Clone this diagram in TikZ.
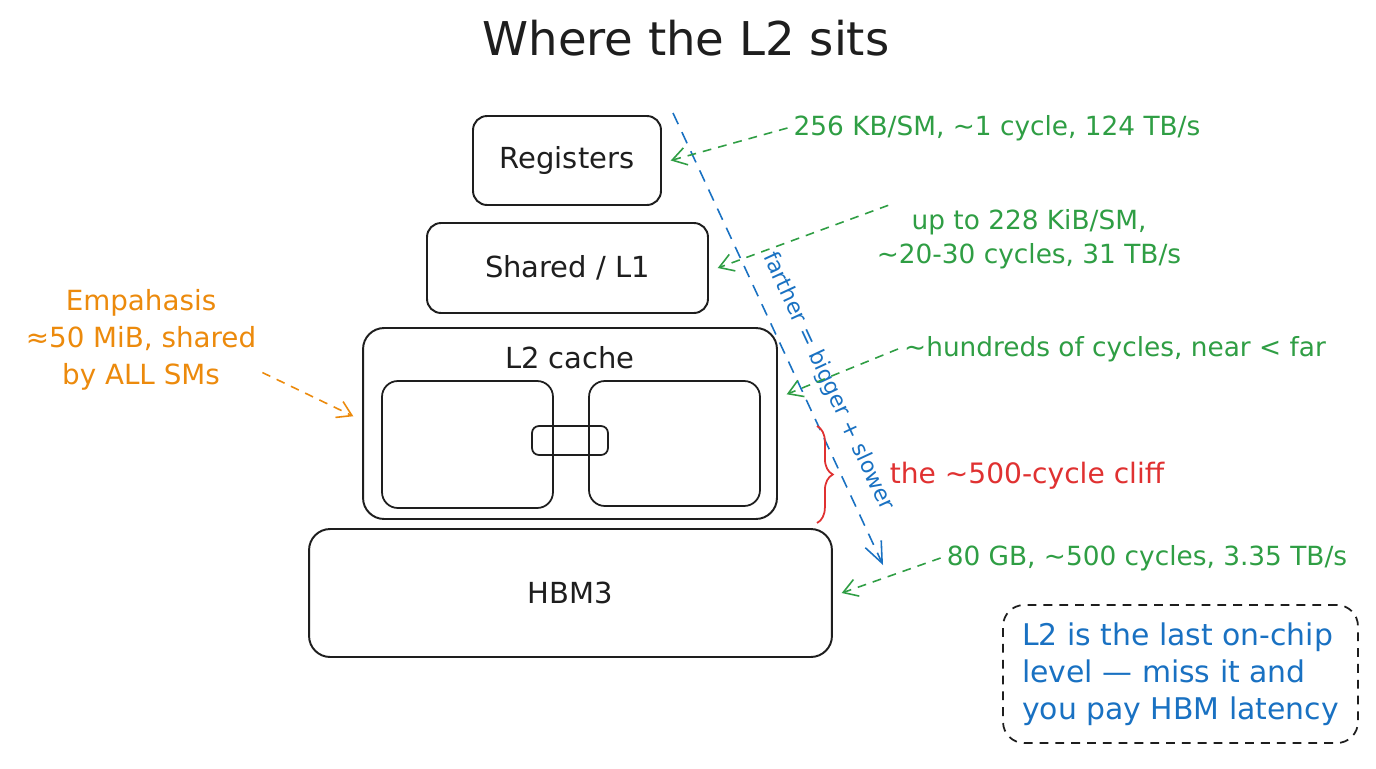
\documentclass[tikz,border=0pt]{standalone}
\usepackage{fontspec}
\setmainfont{DejaVu Sans}
\usetikzlibrary{arrows.meta, positioning, calc, decorations.pathreplacing}

\definecolor{ink}{HTML}{1E1E1E}
\definecolor{inkgreen}{HTML}{2F9E44}
\definecolor{inkblue}{HTML}{1971C2}
\definecolor{inkred}{HTML}{E03131}
\definecolor{inkorange}{HTML}{EC8A0C}

\tikzstyle{level} = [rectangle, rounded corners=8pt, draw=ink, line width=1.1pt, text=ink, font=\fontsize{16.5}{20}\selectfont]
\tikzstyle{bank} = [rectangle, rounded corners=9pt, draw=ink, line width=1pt]
\tikzstyle{stat} = [text=inkgreen, align=center, font=\fontsize{15}{19.5}\selectfont]
\tikzstyle{arrow} = [line width=0.9pt, dash pattern=on 5pt off 4pt, ->, >={Straight Barb[length=8pt,width=10pt]}]

\begin{document}
\begin{tikzpicture}[x=0.02cm, y=-0.02cm]
\useasboundingbox[fill=white] (0,0) rectangle (1376,768);

% Title
\node (title) at (686,38) [font=\fontsize{26.5}{30}\selectfont, text=ink] {Where the L2 sits};

% Memory levels
\node (reg) [level, minimum width=3.76cm, minimum height=1.78cm] at (567,160.5) {Registers};
\node (smem) [level, minimum width=5.62cm, minimum height=1.8cm] at (567.5,268) {Shared / L1};
\node (l2) [level, rounded corners=12pt, minimum width=8.28cm, minimum height=3.82cm] at (570,423.5) {};
\node (l2name) [text=ink, font=\fontsize{16.5}{20}\selectfont] at (570,358) {L2 cache};
\node (bankA) [bank, minimum width=3.42cm, minimum height=2.54cm] at (467.5,444.5) {};
\node (bankB) [bank, minimum width=3.42cm, minimum height=2.5cm] at (674.5,443.5) {};
\node (xbar) [bank, rounded corners=4pt, minimum width=1.52cm, minimum height=0.58cm] at (570,440.5) {};
\node (hbm) [level, rounded corners=12pt, minimum width=10.46cm, minimum height=2.56cm] at (570.5,593) {HBM3};

% Farther = bigger + slower
\coordinate (ftop) at (673,113);
\coordinate (fbot) at (883,565);
\draw [arrow, inkblue, dash pattern=on 7pt off 5pt, >={Straight Barb[length=12pt,width=10pt]}] (ftop) -- node (trend) [sloped, above=7pt, pos=0.62, inner sep=2pt, text=inkblue, font=\fontsize{12.5}{14}\selectfont] {farther = bigger + slower} (fbot);

% Per-level numbers
\node (regstat) [stat] at (997,128) {256 KB/SM, \textasciitilde1 cycle, 124 TB/s};
\node (smemstat) [stat] at (1029,239) {up to 228 KiB/SM,\\\textasciitilde20-30 cycles, 31 TB/s};
\node (l2stat) [stat] at (1115,349) {\textasciitilde hundreds of cycles, near < far};
\node (hbmstat) [stat] at (1147,558) {80 GB, \textasciitilde500 cycles, 3.35 TB/s};

\draw [arrow, inkgreen] ([xshift=10pt]smemstat.168) -- ([xshift=5pt]smem.east);
\draw [arrow, inkgreen] (regstat.west) -- ([xshift=5pt]reg.east);
\draw [arrow, inkgreen] (l2stat.west) -- ([xshift=5pt]l2.8);
\draw [arrow, inkgreen] (hbmstat.west) -- ([xshift=5pt]hbm.east);

% Cliff between L2 and HBM
\coordinate (cliffA) at (817,426);
\coordinate (cliffB) at (817,523);
\draw [inkred, line width=1pt, decorate, decoration={brace, amplitude=9pt}] (cliffA) -- (cliffB);
\node (cliff) [text=inkred, font=\fontsize{16}{19}\selectfont] at (1027,476) {the \textasciitilde500-cycle cliff};

% Emphasis on L2
\node (empnote) [text=inkorange, align=center, font=\fontsize{15.8}{21}\selectfont] at (141,340) {Empahasis\\≈50 MiB, shared\\by ALL SMs};
\draw [arrow, inkorange] (empnote.-15) -- ([xshift=-5pt]l2.178);

% Takeaway
\node (takeaway) [draw=ink, line width=1pt, dash pattern=on 5pt off 4pt, rounded corners=12pt, minimum width=7.1cm, minimum height=2.76cm, text=inkblue, align=left, font=\fontsize{17}{21}\selectfont] at (1180.5,674) {L2 is the last on-chip\\level — miss it and\\you pay HBM latency};

\end{tikzpicture}
\end{document}
